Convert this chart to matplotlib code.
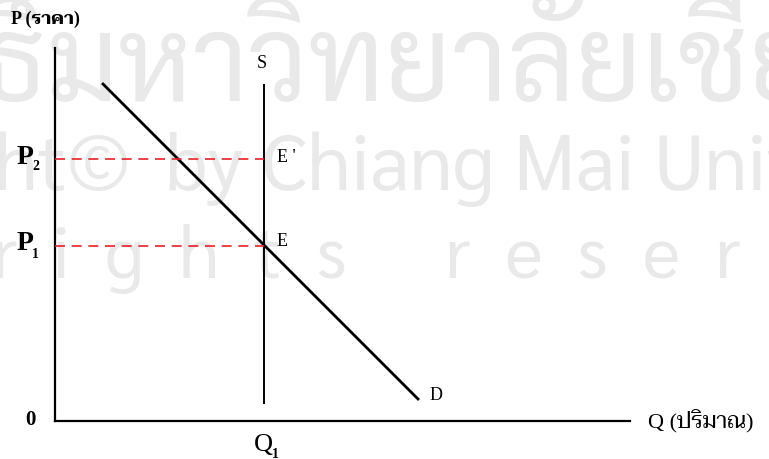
import numpy as np
import matplotlib
matplotlib.use('Agg')
import matplotlib.pyplot as plt

# economic model values (arbitrary units, origin at 0)
q_axis_max = 575
p_axis_max = 373
Q1 = 209
P1 = 175
P2 = 262
supply_p = [18, 336]          # vertical supply at Q1
demand_q = [48, 363]
demand_p = [337, 22]

serif = ['Liberation Serif', 'Taviraj', 'DejaVu Serif']
wm_thai = ['Sarabun', 'DejaVu Sans']
wm_latin = ['Sarabun', 'Open Sans', 'DejaVu Sans']

fig = plt.figure(figsize=(7.69, 4.59), dpi=100)
ax = fig.add_axes([0, 0, 1, 1])
ax.set_xlim(-55, 714)
ax.set_ylim(-38, 421)
ax.axis('off')

# watermark
wm = '#e9e9e9'
ax.text(-8, 320, 'ลิขสิทธิ์', fontsize=84, color=wm, family=wm_thai,
        va='baseline', ha='right', zorder=0)
ax.text(-8, 320, 'มหาวิทยาลัยเชียงใหม่', fontsize=84, color=wm, family=wm_thai,
        va='baseline', ha='left', zorder=0)
ax.text(75, 231, 'Copyright\u00a9', fontsize=56, color=wm, family=wm_latin,
        va='baseline', ha='right', zorder=0)
ax.text(110, 231, 'by Chiang Mai University', fontsize=56, color=wm,
        family=wm_latin, va='baseline', ha='left', zorder=0)
ax.text(-63, 143, 'r  i  g  h  t  s', fontsize=52, color=wm, family=wm_latin,
        va='baseline', ha='left', zorder=0)
ax.text(390, 143, 'r  e  s  e  r  v  e  d', fontsize=52, color=wm, family=wm_latin,
        va='baseline', ha='left', zorder=0)

# axes
ax.plot([0, 0], [0, p_axis_max], color='black', lw=1.6)
ax.plot([0, q_axis_max], [0, 0], color='black', lw=1.6)

# curves
ax.plot([Q1, Q1], supply_p, color='black', lw=1.4)
ax.plot(demand_q, demand_p, color='black', lw=2)

# price lines
ax.plot([0, Q1], [P2, P2], color='#e8202a', lw=1.2, ls=(0, (6, 4)))
ax.plot([0, Q1], [P1, P1], color='#e8202a', lw=1.2, ls=(0, (6, 4)))

tk = dict(family=serif, color='black')
ax.text(-44, 402, 'P (ราคา)', fontsize=13, fontweight='bold', va='center', ha='left', **tk)
for lab, p in (('2', P2), ('1', P1)):
    ax.text(-38, p + 2, 'P', fontsize=20, fontweight='bold', va='center', ha='left', **tk)
    ax.text(-23, p - 8, lab, fontsize=10, fontweight='bold', va='center', ha='left', **tk)
ax.text(-30, 1, '0', fontsize=15, fontweight='bold', va='center', ha='left', **tk)
ax.text(Q1 - 1, -24, 'Q', fontsize=19, va='center', ha='center', **tk)
ax.text(Q1 + 8, -33, '1', fontsize=10, fontweight='bold', va='center', ha='left', **tk)
ax.text(q_axis_max + 18, 0, 'Q (ปริมาณ)', fontsize=16, va='center', ha='left', **tk)
ax.text(Q1 - 2, 357, 'S', fontsize=13, va='center', ha='center', **tk)
ax.text(Q1 + 13, P2 + 2, "E '", fontsize=13, va='center', ha='left', **tk)
ax.text(Q1 + 13, P1 + 5, 'E', fontsize=13, va='center', ha='left', **tk)
ax.text(demand_q[1] + 12, demand_p[1] + 3, 'D', fontsize=13, va='center', ha='left', **tk)

fig.savefig('out.png', dpi=100)
